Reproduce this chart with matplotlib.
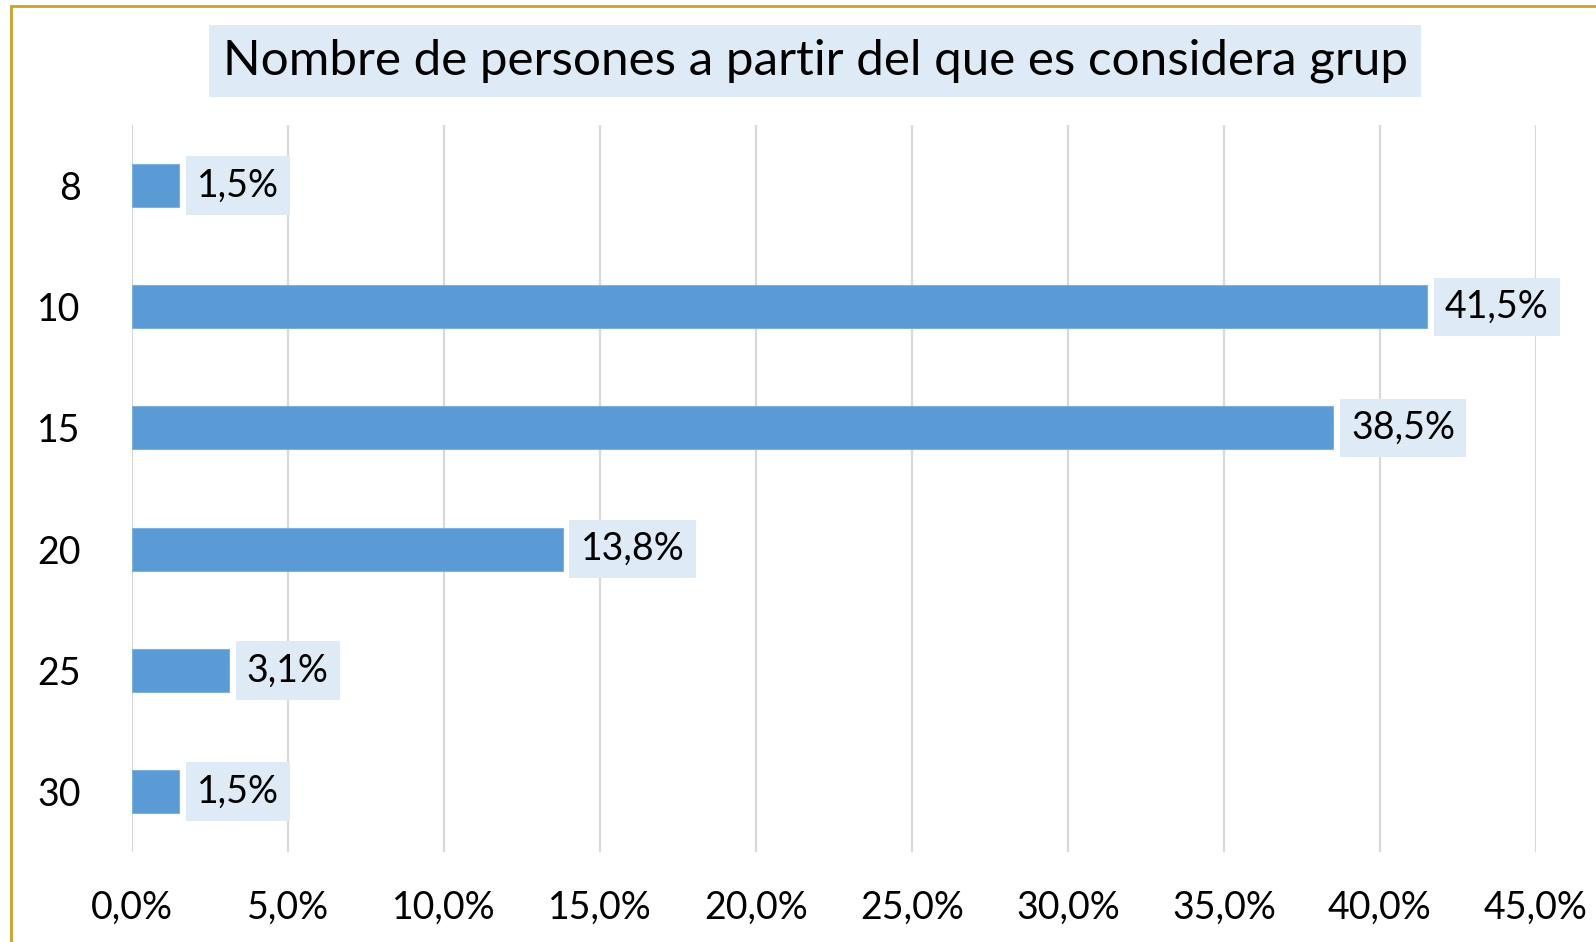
import matplotlib

matplotlib.use("Agg")
import matplotlib.pyplot as plt
from matplotlib.patches import Rectangle

categories = ["8", "10", "15", "20", "25", "30"]
values = [1.5, 41.5, 38.5, 13.8, 3.1, 1.5]
x_ticks = [0, 5, 10, 15, 20, 25, 30, 35, 40, 45]
title = "Nombre de persones a partir del que es considera grup"

BAR_COLOR = "#5b9bd5"
BOX_COLOR = "#deeaf6"
GRID_COLOR = "#d9d9d9"
FRAME_COLOR = "#c9a227"

plt.rcParams["font.family"] = ["Lato", "DejaVu Sans"]


def pct(v):
    return f"{v:.1f}%".replace(".", ",")


fig = plt.figure(figsize=(15.96, 9.42), dpi=100, facecolor="white")
ax = fig.add_axes([0.0827, 0.0955, 0.8797, 0.7718])

y = range(len(categories))
ax.barh(y, values, height=0.355, color=BAR_COLOR, edgecolor="#7fb0de", linewidth=0.8, zorder=3)
ax.set_ylim(len(categories) - 0.5, -0.5)
ax.set_xlim(0, 45)
ax.set_yticks(list(y), categories)
ax.set_xticks(x_ticks, [pct(t) for t in x_ticks])
ax.tick_params(axis="y", length=0, pad=37, labelsize=27)
ax.tick_params(axis="x", length=0, pad=27, labelsize=27)
ax.grid(axis="x", color=GRID_COLOR, linewidth=1.6, zorder=0)
ax.set_axisbelow(True)
for s in ax.spines.values():
    s.set_visible(False)

for yi, v in zip(y, values):
    ax.annotate(pct(v), xy=(v, yi), xytext=(13, 0), textcoords="offset points",
                ha="left", va="center", fontsize=27, color="black", zorder=4,
                bbox=dict(boxstyle="square,pad=0.3", facecolor=BOX_COLOR, edgecolor="none"))

fig.text(0.5107, 0.935, title, ha="center", va="center", fontsize=35.6,
         bbox=dict(boxstyle="square,pad=0.28", facecolor=BOX_COLOR, edgecolor="none"))

# chart frame, cut off on the right and bottom like the screenshot
fig.patches.append(Rectangle((11 / 1596, -0.05), 1.2, 1 - 6 / 942 + 0.05,
                             transform=fig.transFigure, fill=False,
                             edgecolor=FRAME_COLOR, linewidth=2))

fig.savefig("out.png", dpi=100, facecolor=fig.get_facecolor())
